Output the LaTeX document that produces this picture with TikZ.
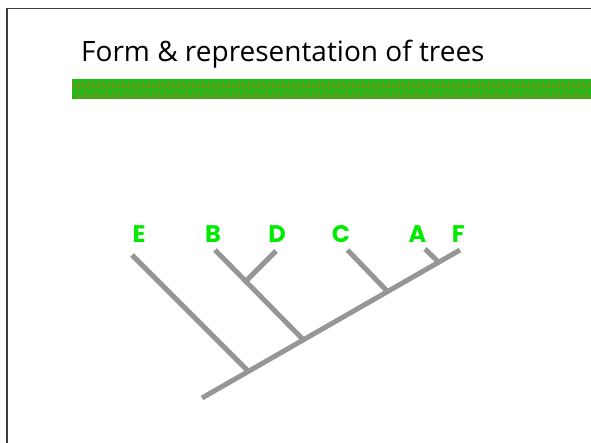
\documentclass[tikz,border=0pt]{standalone}
\usepackage{fontspec}
\setmainfont{Open Sans}
\newfontfamily\labfont{Poppins}
\definecolor{barGreen}{RGB}{34,184,20}
\definecolor{barOlive}{RGB}{104,150,34}
\definecolor{branchGray}{RGB}{150,150,150}
\definecolor{leafGreen}{RGB}{0,235,0}
\definecolor{frameGray}{RGB}{60,60,60}
\tikzset{
  branch/.style={draw=branchGray, line width=5pt, line cap=butt},
  leaf/.style={font=\labfont\bfseries\fontsize{24}{24}\selectfont, text=leafGreen, inner sep=0pt, anchor=center},
  frame/.style={draw=frameGray, line width=1.4pt},
}
\begin{document}
\begin{tikzpicture}[x=1pt, y=-1pt]
  \useasboundingbox (0,0) rectangle (591,443);
  % page frame
  \draw[frame] (7,443) -- (7,8.5) -- (591,8.5);
  % title
  \node[anchor=base west, inner sep=0pt, font=\fontsize{28}{28}\selectfont] (title) at (81,62) {Form \& representation of trees};
  % textured green bar
  \fill[barGreen] (72,79) rectangle (591,99);
  \begin{scope}
    \clip (72,79) rectangle (591,99);
    \foreach \i in {0,...,52} {
      \pgfmathsetmacro{\xx}{72+10*\i}
      \draw[barOlive, line width=1.6pt] (\xx+1,89) -- (\xx+1,84) arc[start angle=180, end angle=0, radius=3] -- (\xx+7,89);
      \draw[barOlive, line width=1.6pt] (\xx+6,99) -- (\xx+6,94) arc[start angle=180, end angle=0, radius=3] -- (\xx+12,99);
    }
  \end{scope}
  % tree: root, junctions and tips
  \coordinate (root) at (202,398);
  \coordinate (jE) at (248.5,371.5);
  \coordinate (jBD) at (303.5,340);
  \coordinate (jC) at (387.5,291.5);
  \coordinate (jA) at (438.5,262);
  \coordinate (jD) at (247,280);
  \coordinate (tE) at (132,255);
  \coordinate (tB) at (215,250);
  \coordinate (tD) at (276,251);
  \coordinate (tC) at (347.5,250);
  \coordinate (tA) at (425,249);
  \coordinate (tF) at (460,250);
  \draw[branch] (root) -- (tF);
  \draw[branch] (jE) -- (tE);
  \draw[branch] (jBD) -- (tB);
  \draw[branch] (jD) -- (tD);
  \draw[branch] (jC) -- (tC);
  \draw[branch] (jA) -- (tA);
  % leaf labels
  \node[leaf] (E) at (139,234) {E};
  \node[leaf] (B) at (213,234) {B};
  \node[leaf] (D) at (277,234) {D};
  \node[leaf] (C) at (341,234) {C};
  \node[leaf] (A) at (417.5,234) {A};
  \node[leaf] (F) at (458.5,234) {F};
\end{tikzpicture}
\end{document}
